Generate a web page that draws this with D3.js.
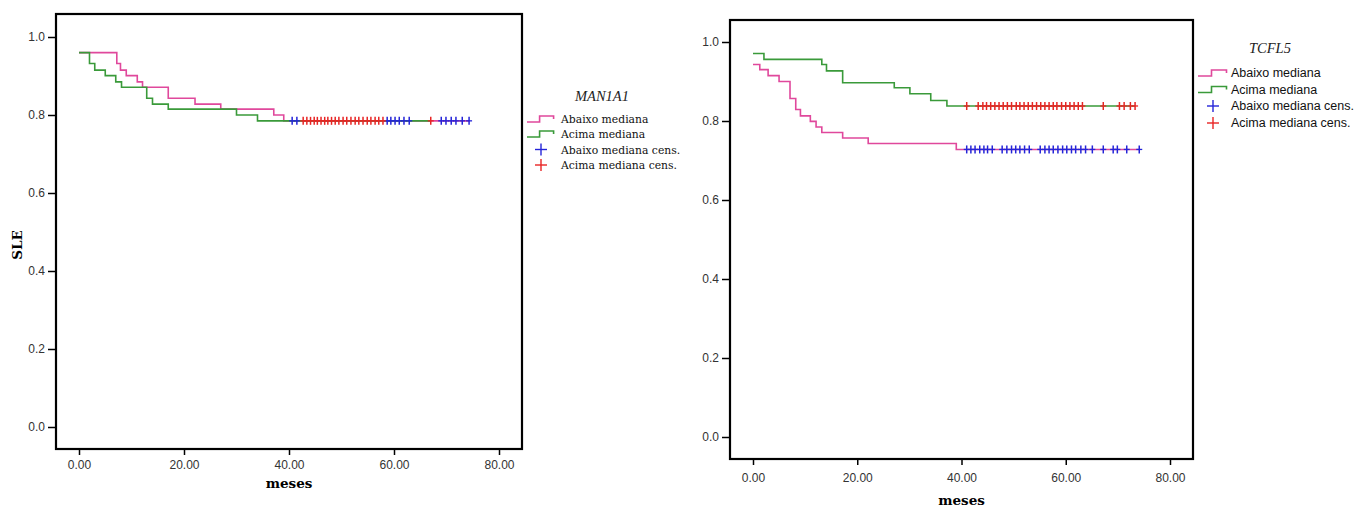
<!DOCTYPE html>
<html>
<head>
<meta charset="utf-8">
<script src="https://cdn.jsdelivr.net/npm/d3@7"></script>
<style>
  body { margin: 0; background: #fff; }
  svg { display: block; }
</style>
</head>
<body>
<div id="chart"></div>
<script>
// ---- data ----
// MAN1A1 (left)
var manAbaixoT = [0, 7.2, 7.9, 9.0, 11.1, 12.1, 17.0, 22.1, 27.0, 37.1, 39.0];
var manAbaixoS = [0.960, 0.932, 0.915, 0.901, 0.885, 0.871, 0.843, 0.828, 0.815, 0.800, 0.785];
var manAcimaT = [0, 2.0, 3.0, 5.0, 7.0, 8.1, 12.9, 14.0, 17.0, 30.0, 34.0];
var manAcimaS = [0.960, 0.932, 0.915, 0.901, 0.885, 0.871, 0.843, 0.828, 0.815, 0.800, 0.785];
var manAbaixoCens = [40.6, 41.5, 58.7, 59.4, 60.2, 61.0, 61.9, 62.9, 69.0, 69.9, 70.9, 71.8, 73.0, 74.3];
var manAcimaCens = [42.7, 43.4, 44.1, 44.8, 45.4, 46.1, 46.8, 47.4, 48.1, 48.8, 49.5, 50.3, 51.0, 51.8,
                    52.6, 53.3, 54.1, 54.9, 55.6, 56.4, 57.1, 57.9, 67.0];

// TCFL5 (right)
var tcfAbaixoT = [0, 1.3, 2.9, 5.0, 7.1, 8.2, 9.1, 11.0, 12.1, 13.2, 17.2, 22.1, 39.0];
var tcfAbaixoS = [0.943, 0.930, 0.915, 0.900, 0.857, 0.829, 0.813, 0.799, 0.785, 0.771, 0.757, 0.743, 0.728];
var tcfAcimaT = [0, 2.1, 13.2, 14.1, 17.2, 27.1, 30.1, 34.1, 37.2];
var tcfAcimaS = [0.971, 0.956, 0.943, 0.927, 0.897, 0.884, 0.869, 0.852, 0.838];
var tcfAbaixoCens = [41.0, 41.8, 42.6, 43.5, 44.3, 45.0, 45.9, 47.8, 48.7, 49.6, 50.4, 51.2, 52.1, 53.0,
                     55.1, 56.0, 56.8, 57.6, 58.5, 59.4, 60.2, 61.1, 61.9, 62.9, 63.8, 65.1, 67.2,
                     69.1, 69.9, 71.7, 74.1];
var tcfAcimaCens = [41.0, 43.2, 44.1, 44.8, 45.6, 46.4, 47.2, 48.0, 48.8, 49.6, 50.5, 51.2, 52.0, 52.8,
                    53.6, 54.4, 55.2, 56.0, 56.8, 57.6, 58.3, 59.2, 60.0, 60.8, 61.6, 62.4, 63.2,
                    67.2, 70.3, 71.2, 72.4, 73.3];

var xTicks = [0, 20, 40, 60, 80];
var yTicks = [0, 0.2, 0.4, 0.6, 0.8, 1.0];
var legendLabels = ["Abaixo mediana", "Acima mediana", "Abaixo mediana cens.", "Acima mediana cens."];

var pink = "#e0489c", green = "#3a9a3a", blue = "#2424d8", red = "#e82424";

var svg = d3.select("#chart").append("svg")
  .attr("width", 1354)
  .attr("height", 508);

function drawKM(cfg) {
  var x = d3.scaleLinear().domain([0, 80]).range(cfg.xr);
  var y = d3.scaleLinear().domain([0, 1]).range(cfg.yr);
  var g = svg.append("g");

  // axes (ticks outside the frame)
  var yAxis = d3.axisLeft(y).tickValues(yTicks).tickFormat(d3.format(".1f"))
    .tickSize(8).tickPadding(3);
  var ya = g.append("g").attr("transform", "translate(" + cfg.frame.x0 + ",0)").call(yAxis);
  var xAxis = d3.axisBottom(x).tickValues(xTicks).tickFormat(d3.format(".2f"))
    .tickSize(6).tickPadding(cfg.xPad);
  var xa = g.append("g").attr("transform", "translate(0," + cfg.frame.y1 + ")").call(xAxis);
  [ya, xa].forEach(function(a) {
    a.select(".domain").remove();
    a.selectAll("line").attr("stroke", "#000").attr("stroke-width", 1.5);
    a.selectAll("text").attr("fill", "#333")
      .style("font-family", "'Liberation Sans', Arial, sans-serif").style("font-size", "12px");
  });

  // step curves
  cfg.curves.forEach(function(c) {
    var pts = c.t.map(function(t, i) { return [t, c.s[i]]; });
    var last = d3.max(c.cens);
    pts.push([last, c.s[c.s.length - 1]]);
    var line = d3.line().x(function(d) { return x(d[0]); }).y(function(d) { return y(d[1]); })
      .curve(d3.curveStepAfter);
    g.append("path").datum(pts)
      .attr("fill", "none").attr("stroke", c.color).attr("stroke-width", 1.6)
      .attr("d", line);
  });

  // censor marks
  cfg.curves.forEach(function(c) {
    var lvl = c.s[c.s.length - 1];
    var marks = g.append("g").selectAll("g").data(c.cens).enter().append("g")
      .attr("transform", function(d) { return "translate(" + x(d) + "," + y(lvl) + ")"; });
    marks.append("line").attr("x1", -3).attr("x2", 3).attr("y1", 0).attr("y2", 0)
      .attr("stroke", c.censColor).attr("stroke-width", 1.3);
    marks.append("line").attr("x1", 0).attr("x2", 0).attr("y1", -4).attr("y2", 4)
      .attr("stroke", c.censColor).attr("stroke-width", 1.5);
  });

  // frame
  g.append("rect")
    .attr("x", cfg.frame.x0).attr("y", cfg.frame.y0)
    .attr("width", cfg.frame.x1 - cfg.frame.x0).attr("height", cfg.frame.y1 - cfg.frame.y0)
    .attr("fill", "none").attr("stroke", "#000").attr("stroke-width", 2.2);

  // axis titles
  g.append("text")
    .attr("x", (x(0) + x(80)) / 2).attr("y", cfg.xTitleY)
    .attr("text-anchor", "middle")
    .style("font-family", "'DejaVu Serif', serif").style("font-weight", "bold").style("font-size", "13.5px")
    .text("meses");
  if (cfg.yTitle) {
    g.append("text")
      .attr("transform", "translate(" + cfg.yTitle.x + "," + cfg.yTitle.y + ") rotate(-90)")
      .attr("text-anchor", "middle")
      .style("font-family", "'DejaVu Serif', serif").style("font-weight", "bold").style("font-size", "13.5px")
      .text("SLE");
  }

  // legend
  var L = cfg.legend;
  g.append("text")
    .attr("x", L.titleX).attr("y", L.titleY).attr("text-anchor", "middle")
    .style("font-family", "'Liberation Serif', 'Times New Roman', serif").style("font-style", "italic")
    .style("font-size", "14.5px").attr("fill", "#222")
    .text(cfg.title);
  var symColors = [pink, green, blue, red];
  legendLabels.forEach(function(lab, i) {
    var by = L.rows[i];
    var cy = by - 4;
    if (i < 2) {
      var w = L.symW;
      g.append("path")
        .attr("d", "M" + L.symX + "," + (cy + 3) + "h" + (w * 0.45) + "v-6h" + (w * 0.5) + "v3")
        .attr("fill", "none").attr("stroke", symColors[i]).attr("stroke-width", 1.6);
    } else {
      var px = L.symX + L.symW / 2;
      g.append("line").attr("x1", px - 6).attr("x2", px + 6).attr("y1", cy).attr("y2", cy)
        .attr("stroke", symColors[i]).attr("stroke-width", 1.4);
      g.append("line").attr("x1", px).attr("x2", px).attr("y1", cy - 6).attr("y2", cy + 6)
        .attr("stroke", symColors[i]).attr("stroke-width", 1.4);
    }
    g.append("text").attr("x", L.textX).attr("y", by)
      .style("font-family", L.font).style("font-size", L.size).attr("fill", "#111")
      .text(lab);
  });
}

drawKM({
  title: "MAN1A1",
  xr: [79, 499], yr: [427, 37],
  frame: { x0: 56, x1: 522, y0: 14, y1: 449 },
  xPad: 5, xTitleY: 488,
  yTitle: { x: 22, y: 245 },
  curves: [
    { t: manAbaixoT, s: manAbaixoS, cens: manAbaixoCens, color: pink, censColor: blue },
    { t: manAcimaT, s: manAcimaS, cens: manAcimaCens, color: green, censColor: red }
  ],
  legend: { titleX: 602, titleY: 101, rows: [123, 138, 153.5, 169], symX: 527, symW: 28, textX: 561,
            font: "'DejaVu Serif', serif", size: "10.8px" }
});

drawKM({
  title: "TCFL5",
  xr: [753, 1170], yr: [437, 42],
  frame: { x0: 730, x1: 1193, y0: 20, y1: 459 },
  xPad: 8, xTitleY: 505,
  yTitle: null,
  curves: [
    { t: tcfAbaixoT, s: tcfAbaixoS, cens: tcfAbaixoCens, color: pink, censColor: blue },
    { t: tcfAcimaT, s: tcfAcimaS, cens: tcfAcimaCens, color: green, censColor: red }
  ],
  legend: { titleX: 1270, titleY: 53, rows: [77, 93.5, 110, 127], symX: 1198, symW: 30, textX: 1231,
            font: "'Liberation Sans', Arial, sans-serif", size: "12.5px" }
});
</script>
</body>
</html>
